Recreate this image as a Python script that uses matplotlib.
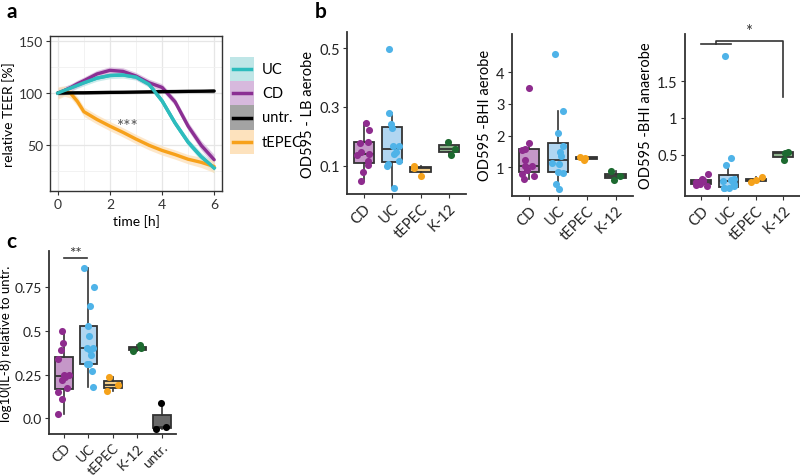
import numpy as np
import matplotlib
matplotlib.use("Agg")
import matplotlib.pyplot as plt
from matplotlib.patches import Rectangle
from matplotlib.lines import Line2D

plt.rcParams['font.family'] = ['Lato', 'DejaVu Sans']

# ---------------- data ----------------
# panel a: relative TEER [%]
time_h = [0, 0.25, 0.5, 0.75, 1, 1.5, 2, 2.5, 3, 3.5, 4, 4.5, 5, 5.5, 6]
teer_uc = [100, 102.5, 105, 107.5, 110, 114.5, 117, 117.5, 115.5, 108.5, 92.5, 71, 52.5, 38.5, 27.5]
teer_cd = [100, 102.5, 105.5, 109, 112, 118.5, 122, 121, 116.5, 110, 105.5, 91.5, 68, 49.5, 35.5]
teer_untr = [100, 100, 100.2, 100.3, 100.3, 100.5, 100.7, 100.8, 101, 101.2, 101.4, 101.5, 101.7, 101.8, 102]
teer_tepec = [100, 102, 99.5, 92, 82, 74.5, 68, 62, 55.5, 49.5, 44.5, 40.5, 36, 33, 29]
se_uc = [5, 4, 3.5, 3, 3, 3, 3, 3, 3, 3, 3, 3, 3.5, 4, 5]
se_cd = [5, 4, 3.5, 3.5, 3.5, 3.5, 3.5, 3.5, 3.5, 3.5, 3.5, 3.5, 4, 4.5, 5]
se_untr = [2, 1.5, 1.5, 1.5, 1.5, 1.5, 1.5, 1.5, 1.5, 1.5, 1.5, 1.5, 1.5, 1.5, 2]
se_tepec = [6, 5, 4.5, 4.5, 4.5, 4.5, 4.5, 4.5, 4.5, 4.5, 4.5, 4.5, 4.5, 5, 6]
series_a = ["UC", "CD", "untr.", "tEPEC"]

# panel b
groups_b = ["CD", "UC", "tEPEC", "K-12"]
lb_cd = [0.244, 0.221, 0.181, 0.177, 0.146, 0.139, 0.136, 0.115, 0.101, 0.078, 0.049]
lb_uc = [0.497, 0.28, 0.242, 0.228, 0.166, 0.166, 0.147, 0.138, 0.114, 0.106, 0.097, 0.025]
lb_tepec = [0.097, 0.092, 0.066]
lb_k12 = [0.179, 0.158, 0.135]

bhi_cd = [3.49, 1.77, 1.58, 1.55, 1.23, 1.05, 1.03, 0.90, 0.80, 0.72, 0.62]
bhi_uc = [4.57, 2.77, 2.08, 1.68, 1.47, 1.37, 1.12, 1.10, 0.84, 0.83, 0.48, 0.33]
bhi_tepec = [1.32, 1.30, 1.22]
bhi_k12 = [0.87, 0.72, 0.60]

an_cd = [0.24, 0.17, 0.16, 0.15, 0.14, 0.13, 0.12, 0.11, 0.10, 0.09, 0.07]
an_uc = [1.84, 0.45, 0.36, 0.17, 0.15, 0.14, 0.13, 0.10, 0.07, 0.05, 0.04, 0.04]
an_tepec = [0.19, 0.15, 0.13]
an_k12 = [0.54, 0.52, 0.43]

# panel c
groups_c = ["CD", "UC", "tEPEC", "K-12", "untr."]
il8_cd = [0.50, 0.43, 0.39, 0.34, 0.25, 0.245, 0.235, 0.22, 0.175, 0.15, 0.11, 0.025]
il8_uc = [0.86, 0.75, 0.64, 0.53, 0.47, 0.40, 0.40, 0.39, 0.36, 0.31, 0.31, 0.27, 0.18]
il8_tepec = [0.235, 0.19, 0.155]
il8_k12 = [0.42, 0.40, 0.385]
il8_untr = [0.09, -0.05, -0.06]

# ---------------- styles ----------------
line_col = {"UC": "#2dbcbd", "CD": "#8b2f93", "untr.": "#000000", "tEPEC": "#f7a11a"}
ribbon_col = {"UC": "#bfe6e7", "CD": "#d7b9dd", "untr.": "#a3a3a3", "tEPEC": "#fde2bd"}
pt_col = {"CD": "#8e2c8e", "UC": "#4fb3e8", "tEPEC": "#f5a21b", "K-12": "#1d6a30", "untr.": "#000000"}
box_fill = {"CD": "#c597c8", "UC": "#b1d6f1", "tEPEC": "#f4cf8b", "K-12": "#8fb28d", "untr.": "#696969"}
dark = "#333333"

W, H = 800, 477
fig = plt.figure(figsize=(8, 4.77), dpi=100)

# ---------------- panel a ----------------
axa = fig.add_axes([0.0625, 0.598, 0.215, 0.325])
t = np.array(time_h)
for name, y, se in [("UC", teer_uc, se_uc), ("CD", teer_cd, se_cd),
                    ("tEPEC", teer_tepec, se_tepec), ("untr.", teer_untr, se_untr)]:
    y = np.array(y); se = np.array(se)
    axa.fill_between(t, y - se, y + se, color=ribbon_col[name], alpha=0.8, lw=0, zorder=2)
for name, y in [("UC", teer_uc), ("CD", teer_cd), ("tEPEC", teer_tepec), ("untr.", teer_untr)]:
    axa.plot(t, y, color=line_col[name], lw=2.4, zorder=3, solid_capstyle='round')
axa.plot(t, teer_uc, color=line_col["UC"], lw=2.4, zorder=4)
axa.set_xlim(-0.3, 6.3)
axa.set_ylim(5.5, 155.5)
axa.set_xticks([0, 2, 4, 6])
axa.set_xticks([1, 3, 5], minor=True)
axa.set_yticks([50, 100, 150])
axa.set_yticks([25, 75, 125], minor=True)
axa.grid(True, which='major', color='#e6e6e6', lw=0.9, zorder=0)
axa.grid(True, which='minor', color='#f0f0f0', lw=0.6, zorder=0)
axa.set_axisbelow(True)
axa.tick_params(which='minor', length=0)
axa.tick_params(which='major', length=3, color=dark, labelsize=10, labelcolor='#333333', pad=2)
for s in axa.spines.values():
    s.set_color(dark); s.set_linewidth(1.0)
axa.set_xlabel("time [h]", fontsize=10, labelpad=3)
axa.set_ylabel("relative TEER [%]", fontsize=10, labelpad=3)
axa.text(2.7, 68, "***", fontsize=12.5, color='#555555', ha='center', va='center', zorder=5)

# legend for panel a (drawn as keys in figure coordinates)
key_x0, key_w, key_h, key_top = 230, 24, 24.2, 58
for i, n in enumerate(series_a):
    ytop = key_top + i * key_h
    fig.add_artist(Rectangle((key_x0 / W, 1 - (ytop + key_h) / H), key_w / W, key_h / H,
                             transform=fig.transFigure, facecolor=ribbon_col[n],
                             edgecolor='none'))
    yc = 1 - (ytop + key_h / 2) / H
    fig.add_artist(Line2D([(key_x0 + 3) / W, (key_x0 + key_w - 3) / W], [yc, yc],
                          transform=fig.transFigure, color=line_col[n], lw=2.5))
    fig.text((key_x0 + key_w + 8) / W, yc, n, fontsize=10.5, va='center', ha='left')

# ---------------- box plot helper ----------------
rng = np.random.default_rng(7)


def boxpanel(ax, groups, data, ylim, yticks, yticklabels, ylabel, xlim,
             fs=10.5, lfs=10.5):
    pos = np.arange(1, len(groups) + 1)
    bp = ax.boxplot(data, positions=pos, widths=0.72, patch_artist=True, showfliers=False,
                    showcaps=False, whis=1.5,
                    medianprops=dict(color=dark, lw=1.3),
                    whiskerprops=dict(color=dark, lw=1.2),
                    boxprops=dict(edgecolor=dark, lw=1.3))
    for patch, g in zip(bp['boxes'], groups):
        patch.set_facecolor(box_fill[g])
    for p, g, vals in zip(pos, groups, data):
        jit = rng.uniform(-0.25, 0.25, len(vals))
        ax.scatter(p + jit, vals, s=26, color=pt_col[g], zorder=4, lw=0)
    ax.set_xlim(*xlim)
    ax.set_ylim(*ylim)
    ax.set_xticks(pos)
    ax.set_xticklabels(groups, rotation=45, ha='right', rotation_mode='anchor', fontsize=fs)
    ax.set_yticks(yticks)
    ax.set_yticklabels(yticklabels)
    ax.tick_params(length=3, color=dark, labelsize=fs, labelcolor='#222222', pad=2)
    for side in ['top', 'right']:
        ax.spines[side].set_visible(False)
    for side in ['left', 'bottom']:
        ax.spines[side].set_color(dark); ax.spines[side].set_linewidth(1.3)
    ax.set_ylabel(ylabel, fontsize=lfs, labelpad=3)


axb1 = fig.add_axes([0.4334, 0.591, 0.149, 0.34])
boxpanel(axb1, groups_b, [lb_cd, lb_uc, lb_tepec, lb_k12], (0.003, 0.555),
         [0.1, 0.3, 0.5], ["0.1", "0.3", "0.5"], "OD595 - LB aerobe", (0.4, 4.6))

axb2 = fig.add_axes([0.6395, 0.587, 0.152, 0.34])
boxpanel(axb2, groups_b, [bhi_cd, bhi_uc, bhi_tepec, bhi_k12], (0.094, 5.21),
         [1, 2, 3, 4], ["1", "2", "3", "4"], "OD595 -BHI aerobe", (0.4, 4.6))

axb3 = fig.add_axes([0.8558, 0.587, 0.1436, 0.34])
boxpanel(axb3, groups_b, [an_cd, an_uc, an_tepec, an_k12], (-0.063, 2.147),
         [0.5, 1, 1.5], ["0.5", "1", "1.5"], "OD595 -BHI anaerobe", (0.4, 4.6))
axb3.plot([1, 2.1], [2.01, 2.01], color=dark, lw=1.2, clip_on=False)
axb3.plot([1.55, 1.55, 4, 4], [2.01, 2.055, 2.055, 1.28], color=dark, lw=1.2, clip_on=False)
axb3.text(2.75, 2.07, "*", fontsize=12, ha='center', va='bottom', color=dark)

# ---------------- panel c ----------------
axc = fig.add_axes([0.0616, 0.088, 0.159, 0.3836])
boxpanel(axc, groups_c, [il8_cd, il8_uc, il8_tepec, il8_k12, il8_untr], (-0.09, 0.956),
         [0.0, 0.25, 0.5, 0.75], ["0.0", "0.25", "0.5", "0.75"],
         "log10(IL-8) relative to untr.", (0.4, 5.6), fs=10, lfs=9.5)
axc.yaxis.labelpad = 2
axc.plot([1, 1.95], [0.918, 0.918], color=dark, lw=1.2)
axc.text(1.47, 0.905, "**", fontsize=11, ha='center', va='bottom', color=dark)

# panel letters
fig.text(0.008, 0.975, "a", fontsize=15, fontweight='bold', va='center', ha='left')
fig.text(0.393, 0.975, "b", fontsize=15, fontweight='bold', va='center', ha='left')
fig.text(0.008, 0.493, "c", fontsize=15, fontweight='bold', va='center', ha='left')

fig.savefig("out.png", dpi=100)
